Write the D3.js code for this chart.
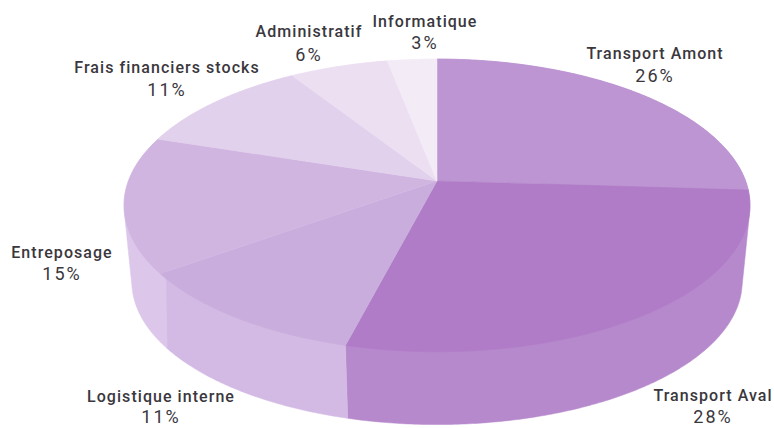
<!DOCTYPE html>
<html>
<head>
<meta charset="utf-8">
<script src="https://cdn.jsdelivr.net/npm/d3@7/dist/d3.min.js"></script>
<style>
  html, body { margin: 0; padding: 0; background: #fff; }
  svg { display: block; }
  text { font-family: Roboto, sans-serif; font-size: 16px; font-weight: 500; fill: #3a373d; letter-spacing: 1.05px; text-anchor: middle; }
  text.share { font-size: 18px; font-weight: 400; letter-spacing: 2px; }
</style>
</head>
<body>
<svg id="chart" width="774" height="428"></svg>
<script>
// Répartition des coûts logistiques
const categories = ["Transport Amont", "Transport Aval", "Logistique interne", "Entreposage",
                    "Frais financiers stocks", "Administratif", "Informatique"];
const shares = [26, 28, 11, 15, 11, 6, 3];
const topColors = ["#bd95d3", "#b07cc7", "#c9aedd", "#d0b5e1", "#e2d1ec", "#ecdff2", "#f3ecf7"];
const sideColors = ["#b78acd", "#b688cc", "#d3bae4", "#dcc7ea", "#e2d1ec", "#ecdff2", "#f3ecf7"];

// Label baselines and centres, in page pixels
const labelX = [655, 713, 161, 62, 167, 309, 425];
const labelY = [59, 401, 402, 258, 73, 37, 27];
const shareY = [82, 423, 423, 280, 96, 61, 49];

const svg = d3.select("#chart");

// The disc is drawn in perspective: a unit circle seen through a projective map,
// so the hub sits above the centre of the visible ellipse.
const hub = { x: 437, y: 181 };
const k = 0.167, radiusX = 308.6, radiusY = 142.3;
const depth = { dy: 77, shrink: 0.975 };

function project(angle, level) {
  const u = Math.sin(angle), v = -Math.cos(angle), w = 1 - k * v;
  const s = level ? depth.shrink : 1;
  return [hub.x + s * radiusX * u / w, hub.y + (level ? depth.dy : 0) + s * radiusY * v / w];
}

function rim(a0, a1, level) {
  const n = Math.max(2, Math.ceil((a1 - a0) / 0.01));
  return d3.range(n + 1).map(i => project(a0 + (a1 - a0) * i / n, level));
}

const pie = d3.pie().value(d => d).sort(null);
const slices = pie(shares);
const line = d3.line();

// Each wall is the hull of its upper and lower arcs, which keeps the outline
// tangent where the disc turns away on the left and right. Top faces cover the rest.
svg.append("g").selectAll("path").data(slices).join("path")
  .attr("d", d => line(d3.polygonHull(rim(d.startAngle, d.endAngle, 0).concat(rim(d.startAngle, d.endAngle, 1)))) + "Z")
  .attr("fill", (d, i) => sideColors[i])
  .attr("stroke", (d, i) => sideColors[i])
  .attr("stroke-width", 0.5);

svg.append("g").selectAll("path").data(slices).join("path")
  .attr("d", d => line([[hub.x, hub.y]].concat(rim(d.startAngle, d.endAngle, 0))) + "Z")
  .attr("fill", (d, i) => topColors[i])
  .attr("stroke", (d, i) => topColors[i])
  .attr("stroke-width", 0.5);

// Name and share under each other
const labels = svg.append("g").selectAll("g").data(categories).join("g");
labels.append("text")
  .attr("x", (d, i) => labelX[i])
  .attr("y", (d, i) => labelY[i])
  .text(d => d);
labels.append("text")
  .attr("class", "share")
  .attr("x", (d, i) => labelX[i])
  .attr("y", (d, i) => shareY[i])
  .text((d, i) => shares[i] + "%");
</script>
</body>
</html>
